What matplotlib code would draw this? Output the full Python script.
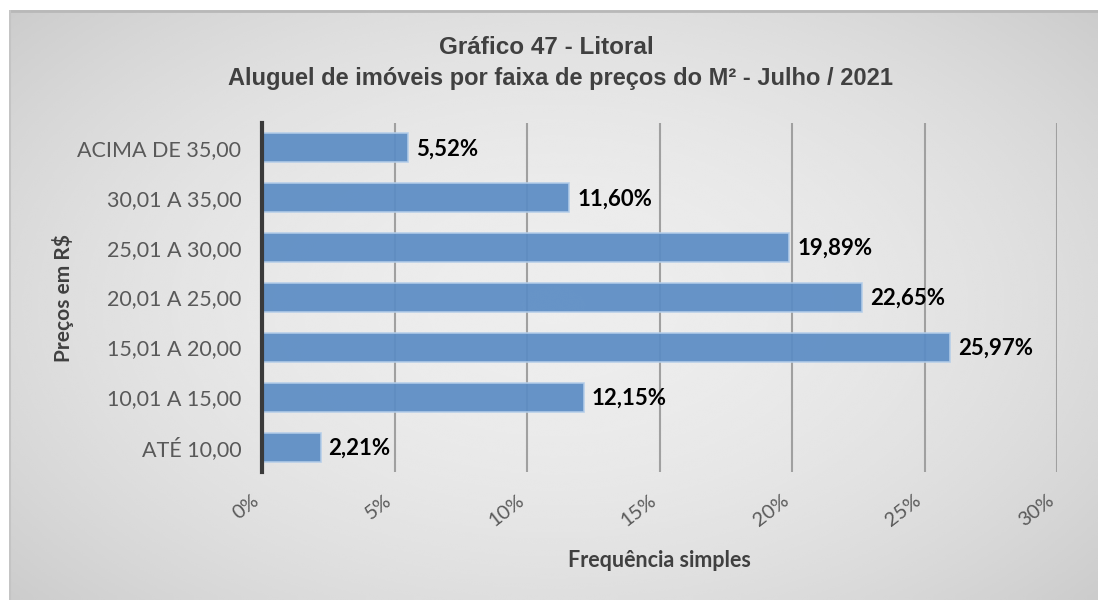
import numpy as np
import matplotlib
matplotlib.use("Agg")
import matplotlib.pyplot as plt

# faixas de preço do m² (de baixo para cima)
faixas = ["ATÉ 10,00", "10,01 A 15,00", "15,01 A 20,00", "20,01 A 25,00",
          "25,01 A 30,00", "30,01 A 35,00", "ACIMA DE 35,00"]
percentuais = [2.21, 12.15, 25.97, 22.65, 19.89, 11.60, 5.52]
xticks = [0, 5, 10, 15, 20, 25, 30]

fig = plt.figure(figsize=(10.98, 6.0), dpi=100)
fig.patch.set_facecolor("white")

# painel cinza com degradê radial
bg = fig.add_axes([9 / 1098, 0, 1 - 9 / 1098, 1 - 10 / 600], zorder=-5)
yy, xx = np.mgrid[-1:1:300j, -1:1:550j]
r = np.sqrt((xx * 0.9) ** 2 + (yy * 0.8) ** 2)
grad = 0.93 - 0.13 * np.clip(r / 1.2, 0, 1) ** 2
bg.imshow(grad, cmap="gray", vmin=0, vmax=1, aspect="auto",
          extent=[0, 1, 0, 1], interpolation="bicubic")
bg.set_xlim(0, 1)
bg.set_ylim(0, 1)
bg.axis("off")
bg.plot([0, 1], [0.998, 0.998], color="#b8b8b8", lw=2)
bg.plot([0.001, 0.001], [0, 1], color="#c4c4c4", lw=1.5)

ax = fig.add_axes([262 / 1098, 1 - 472 / 600, (1057 - 262) / 1098, (472 - 123) / 600])
ax.set_facecolor("none")

y = np.arange(len(faixas))
ax.barh(y, percentuais, height=0.58, color="#5b8cc4", alpha=0.92,
        edgecolor="#b4cde9", linewidth=1.2, zorder=3)

for yi, v in zip(y, percentuais):
    ax.text(v + 0.3, yi - 0.02, f"{v:.2f}%".replace(".", ","), va="center", ha="left",
            fontsize=16, fontweight="bold", family="Lato", color="black", zorder=4)

ax.set_xlim(0, 30)
ax.set_ylim(-0.5, len(faixas) - 0.5)
ax.set_xticks(xticks)
ax.set_xticklabels([f"{t}%" for t in xticks], rotation=38, ha="right", va="top",
                   fontsize=14.5, family="Lato", color="#595959")
ax.set_yticks(y)
ax.set_yticklabels(faixas, fontsize=15.5, family="Lato", color="#595959")
ax.tick_params(axis="both", length=0)
ax.tick_params(axis="y", pad=15)
ax.tick_params(axis="x", pad=14)

ax.grid(axis="x", color="#a0a0a0", lw=1.5, zorder=0)
ax.set_axisbelow(True)
for s in ["top", "right", "bottom"]:
    ax.spines[s].set_visible(False)
ax.spines["left"].set_color("#3a3a3a")
ax.spines["left"].set_linewidth(3)
ax.spines["left"].set_zorder(5)

ax.set_xlabel("Frequência simples", fontsize=15.5, fontweight="bold", family="Lato",
              color="#404040", labelpad=15)
ax.set_ylabel("Preços em R$", fontsize=15, fontweight="bold", family="Lato",
              color="#404040", labelpad=2)

fig.text(546 / 1098, 1 - 48 / 600, "Gráfico 47 - Litoral", ha="center", va="center",
         fontsize=17.5, fontweight="bold", family="Liberation Sans", color="#404040")
fig.text(560 / 1098, 1 - 78 / 600, "Aluguel de imóveis por faixa de preços do M² - Julho / 2021",
         ha="center", va="center", fontsize=17, fontweight="bold",
         family="Liberation Sans", color="#404040")

fig.savefig("out.png", dpi=100)
